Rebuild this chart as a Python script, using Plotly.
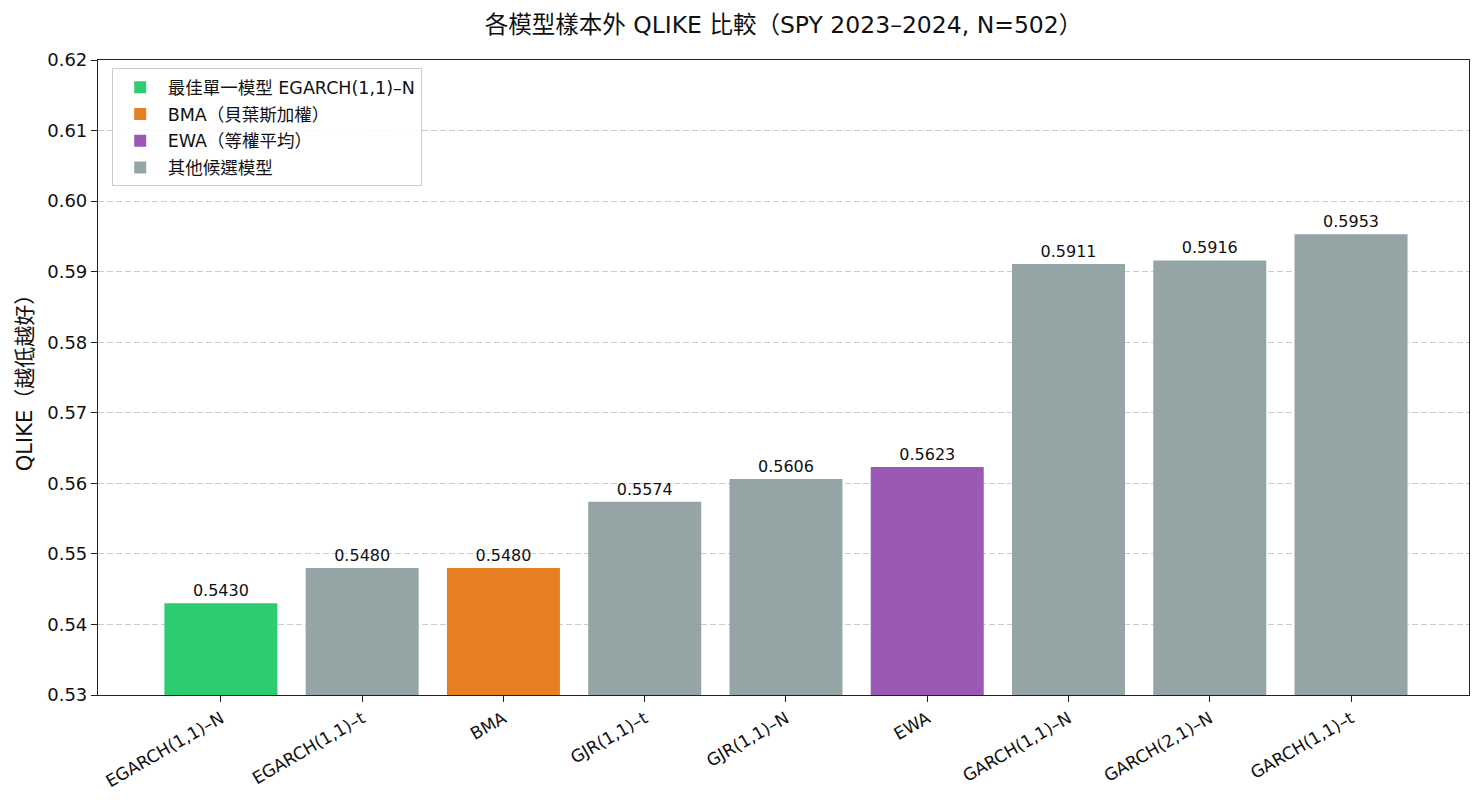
import plotly.graph_objects as go

models = ["EGARCH(1,1)-N", "EGARCH(1,1)-t", "BMA", "GJR(1,1)-t", "GJR(1,1)-N",
          "EWA", "GARCH(1,1)-N", "GARCH(2,1)-N", "GARCH(1,1)-t"]
qlike = [0.5430, 0.5480, 0.5480, 0.5574, 0.5606, 0.5623, 0.5911, 0.5916, 0.5953]
groups = ["best", "other", "bma", "other", "other", "ewa", "other", "other", "other"]

group_names = {
    "best": "最佳單一模型 EGARCH(1,1)–N",
    "bma": "BMA（貝葉斯加權）",
    "ewa": "EWA（等權平均）",
    "other": "其他候選模型",
}
group_colors = {"best": "#2ecc71", "bma": "#e67e22", "ewa": "#9b59b6", "other": "#95a5a6"}
tick_labels = [m.replace("-", "–") for m in models]

FONT = "DejaVu Sans, Noto Sans CJK TC, sans-serif"

fig = go.Figure()
for g in ["best", "bma", "ewa", "other"]:
    xs = [tick_labels[i] for i in range(len(models)) if groups[i] == g]
    ys = [qlike[i] for i in range(len(models)) if groups[i] == g]
    fig.add_trace(go.Bar(
        x=xs, y=ys, name=group_names[g], marker_color=group_colors[g],
        marker_line_width=0, width=0.8, legendgroup=g,
        text=[f"{v:.4f}" for v in ys], textposition="outside",
        textfont=dict(size=16, color="#111111", family=FONT),
        cliponaxis=False, constraintext="none",
    ))

fig.update_layout(
    width=1484, height=808,
    margin=dict(l=98, r=15, t=60, b=113),
    paper_bgcolor="white", plot_bgcolor="white",
    barmode="overlay",
    font=dict(family=FONT, size=15, color="#111111"),
    title=dict(text="各模型樣本外 QLIKE 比較（SPY 2023–2024, N=502）",
               x=0.5, xref="paper", xanchor="center", y=0.969, yanchor="middle",
               font=dict(size=23.5, color="#111111")),
    legend=dict(x=0.01, y=0.987, xanchor="left", yanchor="top",
                bgcolor="rgba(255,255,255,0.85)", bordercolor="#cccccc", borderwidth=1,
                font=dict(size=17.5), traceorder="grouped", tracegroupgap=1, itemwidth=45),
    showlegend=True,
)
fig.update_xaxes(
    type="category", categoryorder="array", categoryarray=tick_labels,
    range=[-0.87, 8.835], tickangle=-30,
    showline=True, linecolor="#222222", linewidth=1.2, mirror=True,
    ticks="outside", ticklen=6, tickcolor="#222222",
    tickfont=dict(size=17), showgrid=False,
)
fig.update_yaxes(
    range=[0.53, 0.62], tickvals=[0.53, 0.54, 0.55, 0.56, 0.57, 0.58, 0.59, 0.60, 0.61, 0.62],
    tickformat=".2f",
    showline=True, linecolor="#222222", linewidth=1.2, mirror=True,
    ticks="outside", ticklen=6, tickcolor="#222222",
    tickfont=dict(size=18),
    showgrid=True, gridcolor="#cccccc", griddash="6px,3px", gridwidth=1,
    zeroline=False,
    title=dict(text="QLIKE（越低越好）", font=dict(size=21), standoff=8),
)

fig.write_html("out.html")
